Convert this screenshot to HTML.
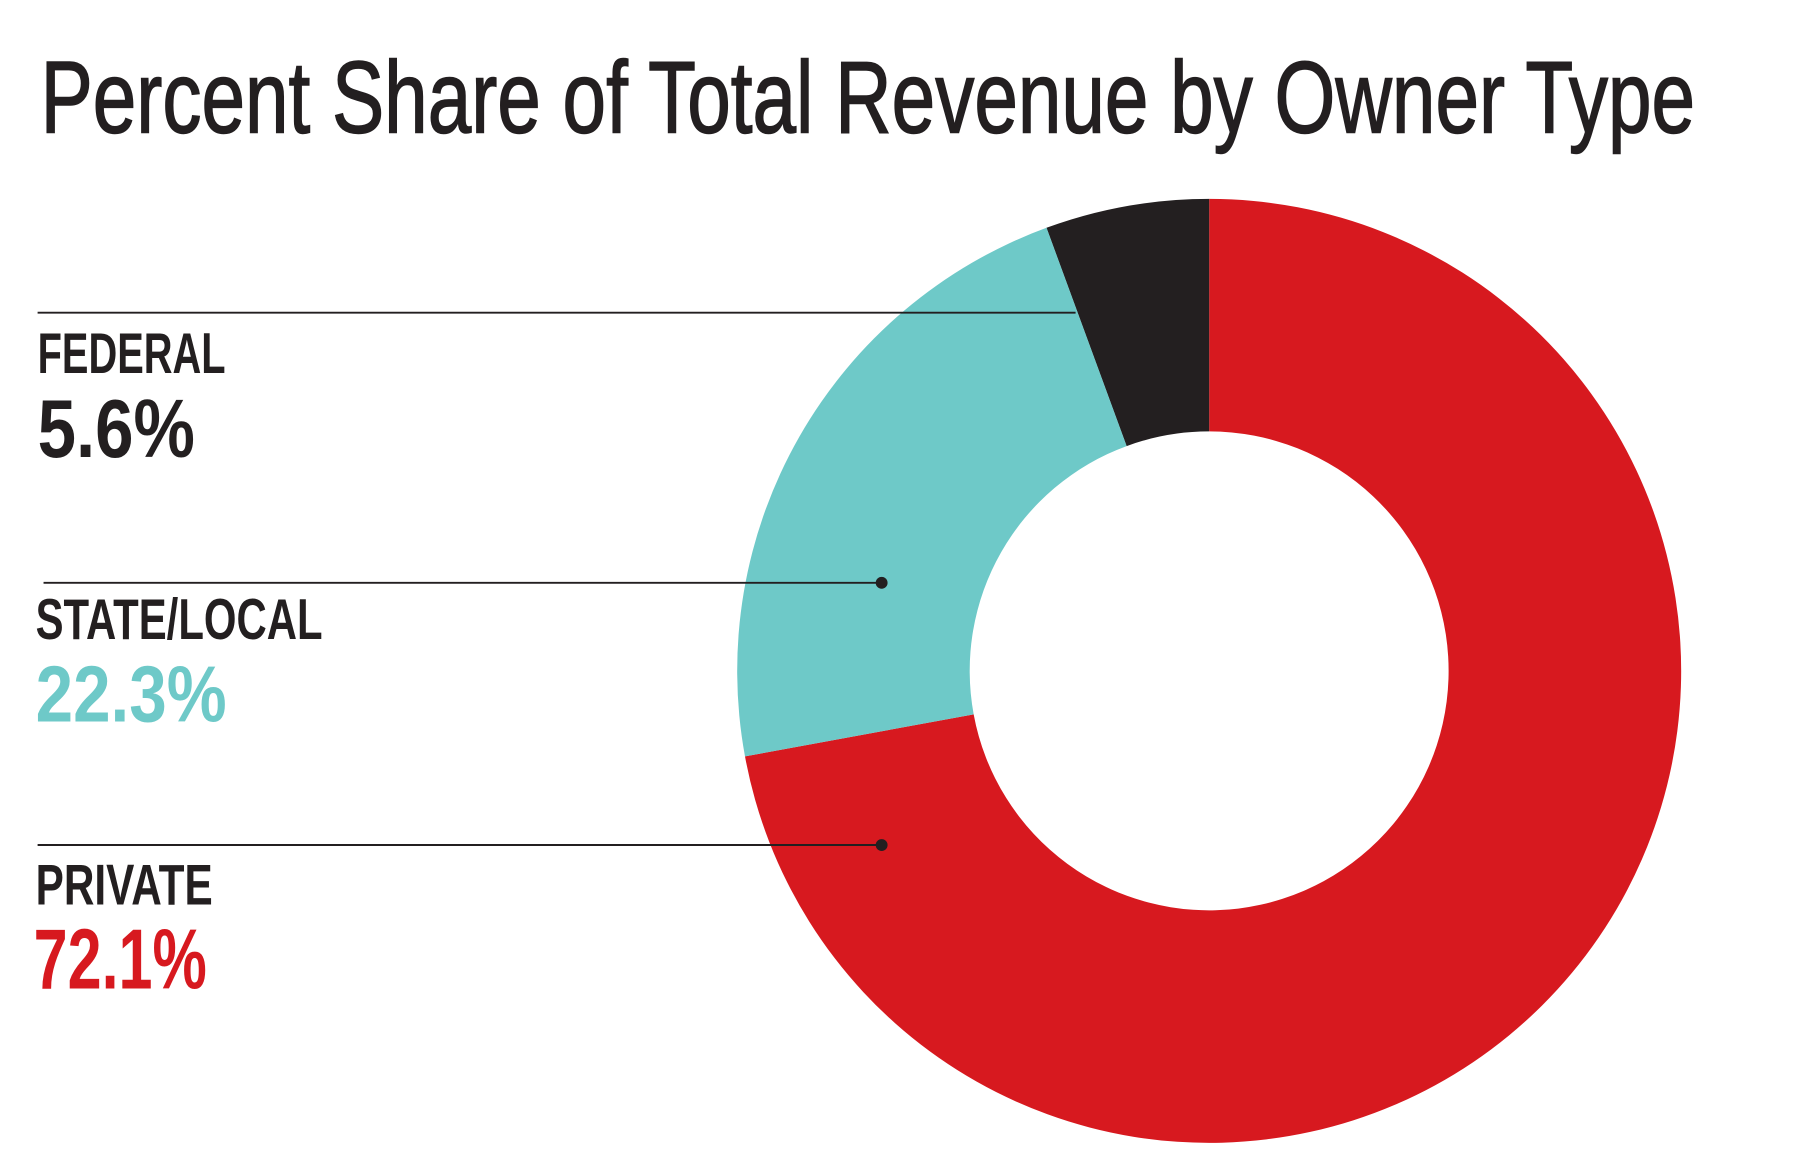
<!DOCTYPE html>
<html><head><meta charset="utf-8"><style>html,body{margin:0;padding:0;background:#fff}svg{display:block}</style></head>
<body>
<svg width="1800" height="1164" viewBox="0 0 1800 1164" xmlns="http://www.w3.org/2000/svg">
<rect width="1800" height="1164" fill="#fff"/>
<g transform="scale(0.9895)">
<text x="41" y="134" font-family="Liberation Sans, sans-serif" font-size="103" fill="#231f20" stroke="#231f20" stroke-width="1.5" textLength="1672" lengthAdjust="spacingAndGlyphs">Percent Share of Total Revenue by Owner Type</text>
<path d="M1222,201 A477,477 0 1 1 752.9,764.4 L984,721.9 A242,242 0 1 0 1222,436 Z" fill="#d7191f"/>
<path d="M1222,201 A477,477 0 0 0 1057.6,230.2 L1138.6,450.8 A242,242 0 0 1 1222,436 Z" fill="#231f20"/>
<path d="M1057.6,230.2 A477,477 0 0 0 752.9,764.4 L984,721.9 A242,242 0 0 1 1138.6,450.8 Z" fill="#6ec9c8"/>
<line x1="38" y1="316" x2="1087" y2="316" stroke="#231f20" stroke-width="2"/>
<line x1="44" y1="589" x2="891" y2="589" stroke="#231f20" stroke-width="2"/>
<circle cx="891" cy="589" r="6" fill="#231f20"/>
<line x1="38" y1="854" x2="891" y2="854" stroke="#231f20" stroke-width="2"/>
<circle cx="891" cy="854" r="6" fill="#231f20"/>
<g font-family="Liberation Sans, sans-serif" font-weight="bold">
<text x="38" y="377" font-size="58" fill="#231f20" textLength="190" lengthAdjust="spacingAndGlyphs">FEDERAL</text>
<text x="38" y="462" font-size="83" fill="#231f20" textLength="159" lengthAdjust="spacingAndGlyphs">5.6%</text>
<text x="36" y="646" font-size="58" fill="#231f20" textLength="290" lengthAdjust="spacingAndGlyphs">STATE/LOCAL</text>
<text x="36" y="729" font-size="81" fill="#6ec9c8" textLength="193" lengthAdjust="spacingAndGlyphs">22.3%</text>
<text x="36" y="914" font-size="58" fill="#231f20" textLength="179" lengthAdjust="spacingAndGlyphs">PRIVATE</text>
<text x="34" y="999" font-size="86" fill="#d7191f" textLength="175" lengthAdjust="spacingAndGlyphs">72.1%</text>
</g>
</g>
</svg>
</body></html>
